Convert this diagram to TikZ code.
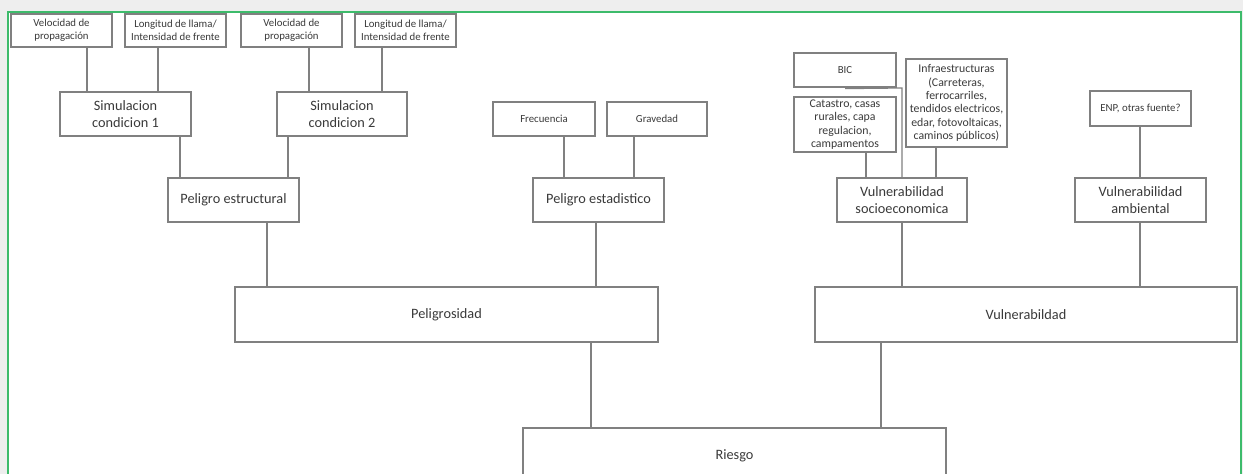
\documentclass[tikz,border=0pt]{standalone}
\usepackage{fontspec}
\setmainfont{Carlito}
\definecolor{frame}{HTML}{3DBB6B}
\definecolor{lin}{HTML}{808080}
\definecolor{txt}{HTML}{3A3A3A}
\definecolor{bg}{HTML}{EEEEEE}
\begin{document}
\begin{tikzpicture}[x=1pt,y=-1pt,
  bx/.style={draw=lin,line width=1.2pt,rectangle,inner sep=0.5pt,align=center,text=txt},
  small/.style={bx,font=\fontsize{10.8}{12.7}\selectfont},
  mid/.style={bx,font=\fontsize{11.8}{13.3}\selectfont},
  med/.style={bx,font=\fontsize{14.3}{17}\selectfont},
  big/.style={bx,font=\fontsize{14.3}{17}\selectfont},
  con/.style={draw=lin,line width=1.2pt}]
\useasboundingbox (0,0) rectangle (1243,474);
\fill[bg] (0,0) rectangle (1243,474);
\draw[frame,line width=2.2pt,fill=white] (8,12) rectangle (1241,490);

% top row
\node[small,minimum width=101pt,minimum height=33pt] (v1) at (61.5,30.5) {Velocidad de\\propagación};
\node[small,minimum width=101pt,minimum height=33pt] (l1) at (175.5,30.5) {Longitud de llama/\\Intensidad de frente};
\node[small,minimum width=101pt,minimum height=33pt] (v2) at (291.5,30.5) {Velocidad de\\propagación};
\node[small,minimum width=101pt,minimum height=33pt] (l2) at (405.5,30.5) {Longitud de llama/\\Intensidad de frente};

\node[med,minimum width=131pt,minimum height=44pt] (s1) at (125.5,114) {Simulacion\\condicion 1};
\node[med,minimum width=130pt,minimum height=44pt] (s2) at (342,114) {Simulacion\\condicion 2};
\node[med,minimum width=131pt,minimum height=44pt] (pe) at (233.5,200) {Peligro estructural};

\node[small,minimum width=102pt,minimum height=34pt] (fr) at (544,119) {Frecuencia};
\node[small,minimum width=100pt,minimum height=34pt] (gr) at (657,119) {Gravedad};
\node[med,minimum width=131pt,minimum height=44pt] (pst) at (598.5,200) {Peligro estadistico};

\node[small,minimum width=102pt,minimum height=34pt] (bic) at (845,70) {BIC};
\node[mid,minimum width=102pt,minimum height=55pt] (cat) at (845,124.5) {Catastro, casas\\rurales, capa\\regulacion,\\campamentos};
\node[mid,minimum width=101pt,minimum height=88pt] (inf) at (956.5,103) {Infraestructuras\\(Carreteras,\\ferrocarriles,\\tendidos electricos,\\edar, fotovoltaicas,\\caminos públicos)};
\node[med,minimum width=130pt,minimum height=44pt] (vs) at (902,200) {Vulnerabilidad\\socioeconomica};

\node[small,minimum width=101pt,minimum height=35pt] (enp) at (1140.5,108.5) {ENP, otras fuente?};
\node[med,minimum width=131pt,minimum height=44pt] (va) at (1140.5,200) {Vulnerabilidad\\ambiental};

\node[big,minimum width=423pt,minimum height=55pt] (pg) at (446.5,314.5) {Peligrosidad};
\node[big,minimum width=422pt,minimum height=55pt] (vu) at (1026,314.5) {Vulnerabildad};
\node[big,minimum width=423pt,minimum height=55pt] (ri) at (734.5,455.5) {Riesgo};

% connector x positions
\coordinate (c1) at (87,0);
\coordinate (c2) at (158,0);
\coordinate (c3) at (309,0);
\coordinate (c4) at (382,0);
\coordinate (c5) at (180,0);
\coordinate (c6) at (288,0);
\coordinate (c7) at (564,0);
\coordinate (c8) at (634,0);
\coordinate (c9) at (267,0);
\coordinate (c10) at (596,0);
\coordinate (c11) at (866,0);
\coordinate (c12) at (936,0);
\coordinate (c13) at (902,0);
\coordinate (c14) at (1140,0);
\coordinate (c15) at (591,0);
\coordinate (c16) at (881,0);
\coordinate (bj) at (902,88);

\draw[con] (v1.south -| c1) -- (s1.north -| c1);
\draw[con] (l1.south -| c2) -- (s1.north -| c2);
\draw[con] (v2.south -| c3) -- (s2.north -| c3);
\draw[con] (l2.south -| c4) -- (s2.north -| c4);
\draw[con] (s1.south -| c5) -- (pe.north -| c5);
\draw[con] (s2.south -| c6) -- (pe.north -| c6);
\draw[con] (fr.south -| c7) -- (pst.north -| c7);
\draw[con] (gr.south -| c8) -- (pst.north -| c8);
\draw[con] (pe.south -| c9) -- (pg.north -| c9);
\draw[con] (pst.south -| c10) -- (pg.north -| c10);
\draw[con] (cat.south -| c11) -- (vs.north -| c11);
\draw[con] (inf.south -| c12) -- (vs.north -| c12);
\draw[con] ([yshift=-1pt]bic.south) -- (bj) -- (vs.north -| bj);
\draw[con] (enp.south -| c14) -- (va.north -| c14);
\draw[con] (vs.south -| c13) -- (vu.north -| c13);
\draw[con] (va.south -| c14) -- (vu.north -| c14);
\draw[con] (pg.south -| c15) -- (ri.north -| c15);
\draw[con] (vu.south -| c16) -- (ri.north -| c16);
\end{tikzpicture}
\end{document}
